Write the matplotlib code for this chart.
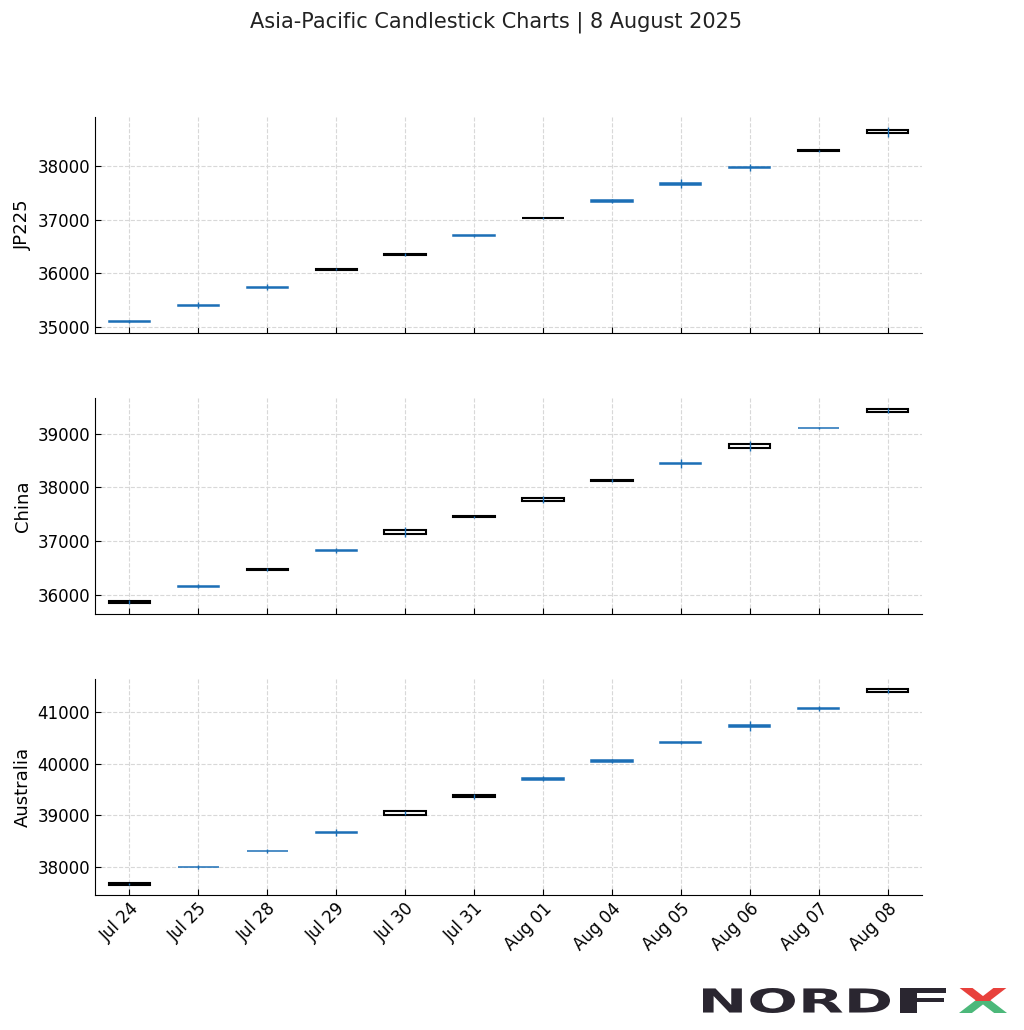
import matplotlib
matplotlib.use("Agg")
import matplotlib.pyplot as plt
from matplotlib.patches import Rectangle, PathPatch
from matplotlib.textpath import TextPath
from matplotlib.font_manager import FontProperties
from matplotlib.transforms import Affine2D

dates = ["Jul 24", "Jul 25", "Jul 28", "Jul 29", "Jul 30", "Jul 31",
         "Aug 01", "Aug 04", "Aug 05", "Aug 06", "Aug 07", "Aug 08"]

jp_open = [35110, 35415, 35755, 36072, 36345, 36712, 37024, 37358, 37680, 37973, 38268, 38605]
jp_close = [35100, 35400, 35738, 36088, 36360, 36697, 37038, 37334, 37642, 37965, 38288, 38665]
jp_high = [35135, 35465, 35795, 36092, 36380, 36735, 37042, 37385, 37750, 38030, 38295, 38725]
jp_low = [35075, 35350, 35700, 36070, 36322, 36672, 37020, 37305, 37580, 37910, 38262, 38545]

cn_open = [35860, 36176, 36472, 36848, 37130, 37450, 37746, 38118, 38455, 38730, 39110, 39408]
cn_close = [35890, 36160, 36487, 36828, 37205, 37466, 37808, 38142, 38435, 38805, 39102, 39448]
cn_high = [35915, 36208, 36509, 36883, 37262, 37478, 37837, 38150, 38525, 38858, 39131, 39478]
cn_low = [35835, 36128, 36449, 36793, 37072, 37438, 37717, 38110, 38365, 38678, 39081, 39378]

au_open = [37657, 37996, 38309, 38682, 39002, 39355, 39732, 40068, 40420, 40746, 41076, 41383]
au_close = [37682, 37993, 38303, 38657, 39077, 39385, 39692, 40033, 40405, 40706, 41051, 41438]
au_high = [37689, 38034, 38346, 38729, 39079, 39420, 39757, 40096, 40443, 40821, 41114, 41450]
au_low = [37649, 37954, 38266, 38609, 38999, 39320, 39667, 40006, 40383, 40631, 41014, 41370]

markets = ["JP225", "China", "Australia"]
ohlc = [
    (jp_open, jp_high, jp_low, jp_close),
    (cn_open, cn_high, cn_low, cn_close),
    (au_open, au_high, au_low, au_close),
]

blue = "#1c6fb6"
fig = plt.figure(figsize=(10.24, 10.30), dpi=100)
fig.suptitle("Asia-Pacific Candlestick Charts | 8 August 2025", fontsize=15,
             x=0.484, y=0.989, color="#222222")

bottoms = [0.6767, 0.4039, 0.1311]
axes = []
for i, (name, (o, h, l, c)) in enumerate(zip(markets, ohlc)):
    ax = fig.add_axes([0.0928, bottoms[i], 0.8076, 0.2097],
                      sharex=axes[0] if axes else None)
    axes.append(ax)
    x = list(range(len(dates)))
    ax.vlines(x, l, h, color=blue, linewidth=1.0, zorder=4)
    for xi, oi, ci in zip(x, o, c):
        up = ci >= oi
        body = Rectangle((xi - 0.3, min(oi, ci)), 0.6, abs(ci - oi),
                         facecolor="white" if up else blue,
                         edgecolor="black" if up else blue,
                         linewidth=1.5 if up else 1.1, zorder=3)
        ax.add_patch(body)
    ax.set_ylabel(name, fontsize=13)
    ax.grid(True, linestyle="--", color="#d8d8d8", linewidth=0.8)
    ax.set_axisbelow(True)
    ax.spines["top"].set_visible(False)
    ax.spines["right"].set_visible(False)
    ax.tick_params(direction="in", labelsize=12, length=4)
    ax.set_xticks(x)
    ax.set_xlim(-0.5, 11.5)
    ax.autoscale_view(scalex=False)
    if i < 2:
        ax.tick_params(labelbottom=False)

axes[-1].set_xticklabels(dates, rotation=45, ha="right", rotation_mode="anchor")

# NORD FX logo
lax = fig.add_axes([0, 0, 1, 50 / 1030])
lax.set_xlim(0, 1024)
lax.set_ylim(0, 50)
lax.axis("off")
prop = FontProperties(family="DejaVu Sans", weight="bold")


def place(txt, x0, x1, y0, y1, color, clip=None):
    tp = TextPath((0, 0), txt, size=10, prop=prop)
    ext = tp.get_extents()
    tr = Affine2D().translate(-ext.x0, -ext.y0).scale(
        (x1 - x0) / ext.width, (y1 - y0) / ext.height).translate(x0, y0)
    patch = PathPatch(tr.transform_path(tp), facecolor=color, edgecolor="none")
    lax.add_patch(patch)
    if clip is not None:
        rect = Rectangle(clip[0], clip[1], clip[2], transform=lax.transData)
        patch.set_clip_path(rect)


place("NORD", 703, 890, 17, 42, "#2a2630")
place("F", 900, 946, 17, 42, "#2a2630")
place("X", 959, 1007, 17, 42, "#e8413c", clip=((950, 29.5), 70, 20))
place("X", 959, 1007, 17, 42, "#4cb87a", clip=((950, 10), 70, 19.5))

fig.savefig("out.png", dpi=100)
